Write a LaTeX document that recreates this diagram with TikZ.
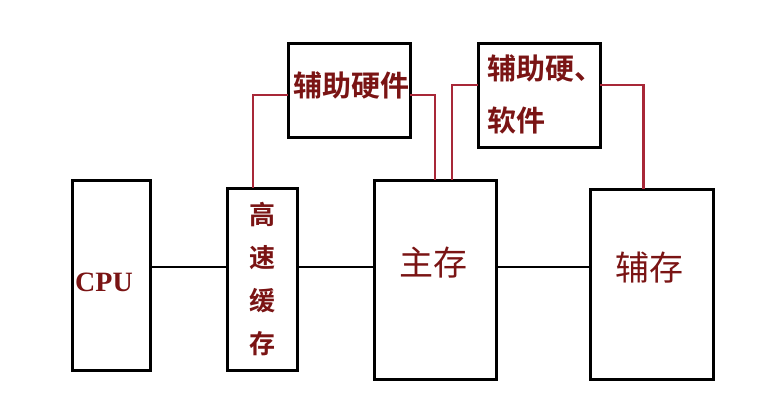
\documentclass[tikz,border=0pt]{standalone}
\usepackage{fontspec}
\setmainfont{Liberation Serif}
\newfontfamily\cjk{Noto Sans CJK SC}[BoldFont={Noto Sans CJK SC Bold}]
\usepackage{tikz}
\usetikzlibrary{positioning}
\definecolor{linkred}{HTML}{A82838}
\definecolor{textred}{HTML}{7A1414}

\begin{document}
\begin{tikzpicture}[x=1pt, y=-1pt,
		box/.style={draw, line width=3pt, anchor=north west, outer sep=0pt, inner sep=0pt},
		redline/.style={draw=linkred, line width=2.5pt},
		busline/.style={draw=black, line width=2.5pt},
		lbl/.style={text=textred, inner sep=0pt}]
	\useasboundingbox (0,0) rectangle (774,402);
	
	% Boxes
	\node[box, minimum width=78pt, minimum height=190pt] (cpu) at (72,180) {};
	\node[box, minimum width=70pt, minimum height=182pt] (cache) at (227,188) {};
	\node[box, minimum width=122pt, minimum height=199pt] (mainmem) at (374,180) {};
	\node[box, minimum width=123pt, minimum height=190pt] (auxmem) at (590,189) {};
	\node[box, minimum width=122pt, minimum height=94pt] (hw) at (288,43) {};
	\node[box, minimum width=122pt, minimum height=104pt] (hwsw) at (478,43) {};
	
	% Labels
	\node[lbl, font=\fontsize{28}{28}\selectfont\bfseries] (cpulbl) at (104,282) {CPU};
	\node[lbl, align=center, font=\cjk\bfseries\fontsize{26}{43}\selectfont] (cachelbl) at (262,279) {高\\速\\缓\\存};
	\node[lbl, font=\cjk\fontsize{34}{34}\selectfont] (mainlbl) at (433,263) {主存};
	\node[lbl, font=\cjk\fontsize{34}{34}\selectfont] (auxlbl) at (649,268) {辅存};
	\node[lbl, font=\cjk\bfseries\fontsize{29}{29}\selectfont] (hwlbl) at (351,85) {辅助硬件};
	\node[lbl, anchor=west, align=left, font=\cjk\bfseries\fontsize{29}{52}\selectfont] (hwswlbl) at (487,94) {辅助硬、\\软件};
	
	% Bus
	\coordinate (bus) at (0,267);
	\draw[busline] (cpu.east |- bus) -- (cache.west |- bus);
	\draw[busline] (cache.east |- bus) -- (mainmem.west |- bus);
	\draw[busline] (mainmem.east |- bus) -- (auxmem.west |- bus);
	
	% Red links
	\draw[redline] ([xshift=-9pt]cache.north) |- ([yshift=-5pt]hw.west);
	\draw[redline] ([yshift=-5pt]hw.east) -| (mainmem.north);
	\draw[redline] ([xshift=17pt]mainmem.north) |- ([yshift=10pt]hwsw.west);
	\draw[redline] ([yshift=10pt]hwsw.east) -| ([xshift=-8pt]auxmem.north);
\end{tikzpicture}
\end{document}
